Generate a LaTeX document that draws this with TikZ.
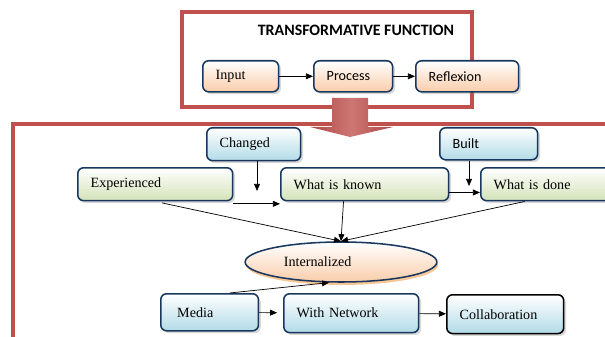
\documentclass[tikz,border=0pt]{standalone}
\usepackage{fontspec}
\setmainfont{Liberation Serif}
\newfontfamily\carlito{Carlito}
\usetikzlibrary{arrows.meta,positioning,shapes.geometric,shadows,calc}

\definecolor{framered}{RGB}{192,80,77}
\definecolor{boxnavy}{RGB}{23,55,94}
\definecolor{peach}{RGB}{250,205,170}
\definecolor{skyblue}{RGB}{178,219,231}
\definecolor{sage}{RGB}{212,226,184}

\begin{document}
\begin{tikzpicture}[
    x=0.85pt, y=-0.85pt,
    >={Triangle[length=6pt,width=5pt]},
    frame/.style={draw=framered, line width=2.8pt},
    box/.style={
        rectangle,
        rounded corners=5pt,
        draw=boxnavy,
        line width=1.3pt,
        top color=white,
        bottom color=#1,
        drop shadow={shadow xshift=2pt, shadow yshift=-2pt, opacity=0.3},
        anchor=north west,
        align=left,
        inner xsep=11pt,
        inner ysep=2pt,
        font=\fontsize{12}{14}\selectfont
    },
    sans/.style={font=\carlito\fontsize{12}{14}\selectfont},
    flow/.style={->, line width=0.6pt}
]
\useasboundingbox (0,0) rectangle (605,337);
\clip (0,0) rectangle (605,337);

% Frames around both stages
\draw[frame] (13,124) rectangle (640,360);
\draw[frame] (182,12) rectangle (472,107);

% Block arrow from the upper frame into the lower one
\shade[left color=framered!90!black, right color=framered!90!black, middle color=framered!78]
    (332,98) -- (368,98) -- (368,127) -- (393,127) -- (350,137) -- (310,127) -- (332,127) -- cycle;

% Upper stage
\node[font=\carlito\bfseries\fontsize{13.5}{15}\selectfont] (title) at (356,30) {TRANSFORMATIVE FUNCTION};
\node[box=peach, text width=42.5pt, minimum height=26.4pt] (inp) at (202,60) {Input};
\node[box=peach, sans, text width=45pt, minimum height=26.4pt] (proc) at (313,60) {Process};
\node[box=peach, sans, text width=65.5pt, minimum height=26.4pt] (refl) at (415,60) {Reflexion};

% Lower stage
\node[box=skyblue, text width=57.8pt, minimum height=28pt] (changed) at (206,127) {Changed};
\node[box=skyblue, sans, text width=61.2pt, minimum height=27.2pt] (built) at (439,127) {Built};
\node[box=sage, text width=109.7pt, minimum height=28pt] (exp) at (77,167) {Experienced};
\node[box=sage, text width=120.7pt, minimum height=28pt] (known) at (280,167) {What is known};
\node[box=sage, text width=96.9pt, minimum height=28pt] (done) at (480,167) {What is done};
\node[ellipse, draw=boxnavy, line width=1.3pt, top color=white, bottom color=peach,
      minimum width=163pt, minimum height=34pt, inner sep=0pt,
      text width=97pt, align=left, font=\fontsize{12}{14}\selectfont,
      drop shadow={shadow xshift=1pt, shadow yshift=-2.5pt, fill=orange!70!brown, opacity=0.45}]
      (intern) at (341,262) {Internalized};
\node[box=skyblue, inner xsep=14pt, text width=55pt, minimum height=31.5pt] (media) at (160,293) {Media};
\node[box=skyblue, text width=92.7pt, minimum height=33pt] (network) at (283,293) {With Network};
\node[box=skyblue, draw=black, text width=77.4pt, minimum height=33pt] (collab) at (446,294) {Collaboration};

% Connectors
\draw[flow] (inp) -- (proc);
\draw[flow] (proc) -- (refl);
\coordinate (changed tip) at (257,191);
\draw[flow] (changed.south -| changed tip) -- (changed tip);
\coordinate (built tip) at (469,186);
\draw[flow] (built.south -| built tip) -- (built tip);
\draw[flow] ([yshift=-2pt]exp.south east) -- ([yshift=-2pt]known.south west);
\draw[flow] ([yshift=-7pt]known.east) -- ([yshift=-7pt]done.west);
\draw[flow, shorten <=6pt] (exp.south) -- (intern.north);
\draw[flow] ([xshift=-18pt]known.south) -- (intern.north);
\draw[flow] ([xshift=38pt]done.south west) -- (intern.north);
\draw[flow] ([xshift=17pt]media.north) -- (intern.-120);
\draw[flow, shorten >=5pt] (media) -- (network);
\draw[flow] (network) -- (collab);

\end{tikzpicture}
\end{document}
